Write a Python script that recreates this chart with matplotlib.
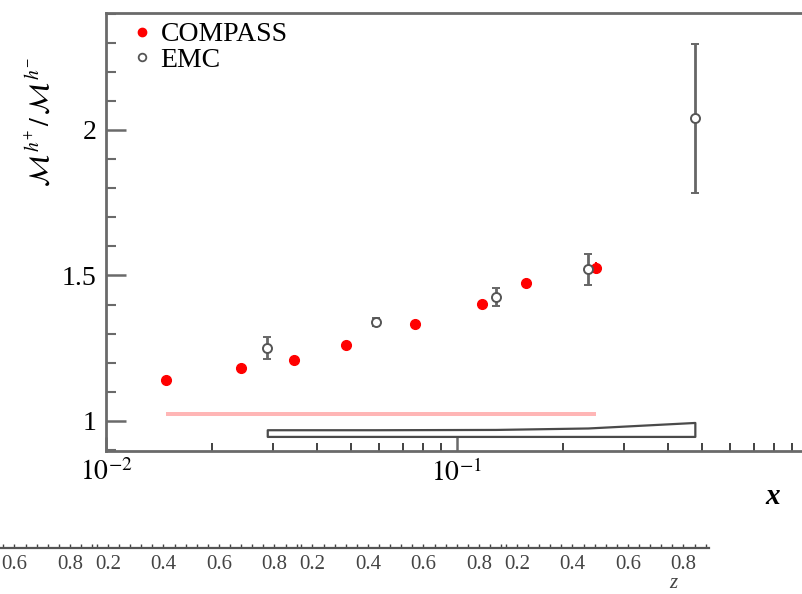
import numpy as np
import matplotlib
matplotlib.use("Agg")
import matplotlib.pyplot as plt
from matplotlib.lines import Line2D
from matplotlib.ticker import FixedLocator, NullFormatter, LogLocator

plt.rcParams['font.family'] = ['Liberation Serif', 'DejaVu Serif']
plt.rcParams['mathtext.fontset'] = 'stix'

# ---- data ----
compass_x = [0.0148, 0.0243, 0.0344, 0.0483, 0.0759, 0.1178, 0.157, 0.249]
compass_y = [1.141, 1.182, 1.210, 1.261, 1.333, 1.402, 1.474, 1.526]
compass_err = [0.008, 0.008, 0.008, 0.008, 0.009, 0.010, 0.018, 0.022]
compass_sys_lo = 1.018
compass_sys_hi = 1.031

emc_x = [0.0288, 0.0588, 0.129, 0.236, 0.476]
emc_y = [1.251, 1.340, 1.426, 1.522, 2.041]
emc_err = [0.038, 0.015, 0.030, 0.053, 0.256]
emc_sys_base = 0.947
emc_sys_top = [0.970, 0.970, 0.971, 0.976, 0.995]

y_major = [1.0, 1.5, 2.0]
y_major_labels = ["1", "1.5", "2"]
x_major = [0.01, 0.1]
x_major_labels = [r"$10^{-2}$", r"$10^{-1}$"]

# repeated z scale shown under the x axis
z_tick_values = [0.2, 0.4, 0.6, 0.8]
z_tick_labels = ["0.2", "0.4", "0.6", "0.8"]
z_lo, z_hi = 0.157, 0.894
z_segments = [-1, 0, 1, 2]

W, H = 802, 594
fig = plt.figure(figsize=(W / 100, H / 100), dpi=100)

ax_l, ax_r, ax_t, ax_b = 106, 802, 13, 451
ax = fig.add_axes([ax_l / W, 1 - ax_b / H, (ax_r - ax_l) / W, (ax_b - ax_t) / H])
ax.set_xscale('log')
ax.set_xlim(0.01, 10 ** (-2 + 696 / 351))
ax.set_ylim(0.8969, 2.402)

axis_col = '#6a6a6a'
for s in ['left', 'top', 'bottom']:
    ax.spines[s].set_color(axis_col)
    ax.spines[s].set_linewidth(2)
ax.spines['right'].set_visible(False)

# systematic bands
ax.fill_between([compass_x[0], compass_x[-1]], compass_sys_lo, compass_sys_hi,
                color='#ffb6b6', lw=0, zorder=2)
ax.fill_between(emc_x, emc_sys_base, emc_sys_top, facecolor='white',
                edgecolor='#4a4a4a', lw=1.6, zorder=2)

# data points
ax.errorbar(compass_x, compass_y, yerr=compass_err, fmt='o', color='red',
            ms=7, mec='red', mfc='red', ecolor='red', elinewidth=1.5,
            capsize=0, zorder=4)
ax.errorbar(emc_x, emc_y, yerr=emc_err, fmt='o', ms=6.5, mfc='white',
            mec='#555555', mew=1.4, ecolor='#666666', elinewidth=2,
            capsize=3, capthick=1.6, zorder=5)

# ticks
ax.yaxis.set_major_locator(FixedLocator(y_major))
ax.set_yticklabels(y_major_labels)
ax.yaxis.set_minor_locator(FixedLocator(np.round(np.arange(0.9, 2.41, 0.1), 2)))
ax.xaxis.set_major_locator(FixedLocator(x_major))
ax.set_xticklabels(x_major_labels)
ax.xaxis.set_minor_locator(LogLocator(base=10, subs=np.arange(2, 10)))
ax.xaxis.set_minor_formatter(NullFormatter())
ax.tick_params(axis='y', which='major', direction='in', length=14.5, width=1.8,
               color=axis_col, labelsize=20, pad=7)
ax.tick_params(axis='y', which='minor', direction='in', length=7.5, width=1.5,
               color=axis_col)
ax.tick_params(axis='x', which='major', direction='in', length=10, width=1.8,
               color=axis_col, labelsize=20, pad=6)
ax.tick_params(axis='x', which='minor', direction='in', length=5.5, width=1.3,
               color='#333333')

handles = [
    Line2D([], [], ls='none', marker='o', ms=6, mfc='red', mec='red'),
    Line2D([], [], ls='none', marker='o', ms=5.5, mfc='white', mec='#555555',
           mew=1.3),
]
ax.legend(handles, ['COMPASS', 'EMC'], loc='upper left',
          bbox_to_anchor=(28 / 696, 1 - 9 / 438), frameon=False, fontsize=20,
          handlelength=0.6, handletextpad=0.35, labelspacing=0.0,
          borderpad=0, borderaxespad=0)

fig.text(773 / W, 1 - 497 / H, 'x', fontsize=21, fontweight='bold',
         fontstyle='italic', ha='center', va='center')
fig.text(40 / W, 1 - 122 / H, r'$\mathcal{M}^{\,h^{+}}\,/\,\mathcal{M}^{\,h^{-}}$',
         rotation=90, fontsize=20, ha='center', va='center')

# repeated z axis
seg = z_hi - z_lo
px_per_unit = 277.5
seg0_px = 96
u_left = -seg0_px / px_per_unit
u_right = (709 - seg0_px) / px_per_unit
zax = fig.add_axes([0, 1 - 548 / H, 709 / W, 0.0005])
zax.set_xlim(u_left, u_right)
zax.set_ylim(0, 1)
for s in ['left', 'right', 'top']:
    zax.spines[s].set_visible(False)
zax.spines['bottom'].set_color('#555555')
zax.spines['bottom'].set_linewidth(1.6)
zax.yaxis.set_visible(False)
major_pos, major_lab, minor_pos = [], [], []
for k in z_segments:
    for v, lab in zip(z_tick_values, z_tick_labels):
        major_pos.append(k * seg + (v - z_lo))
        major_lab.append(lab)
    for v in np.arange(0.16, 0.89, 0.04):
        minor_pos.append(k * seg + (v - z_lo))
zax.xaxis.set_major_locator(FixedLocator(major_pos))
zax.set_xticklabels(major_lab)
zax.xaxis.set_minor_locator(FixedLocator(minor_pos))
zax.tick_params(axis='x', which='both', direction='in', length=3, width=1,
                color='#444444', labelsize=15, labelcolor='#444444', pad=5)
fig.text(673 / W, 1 - 584 / H, 'z', fontsize=15, fontstyle='italic',
         color='#444444', ha='center', va='center')

fig.savefig('out.png', dpi=100)
